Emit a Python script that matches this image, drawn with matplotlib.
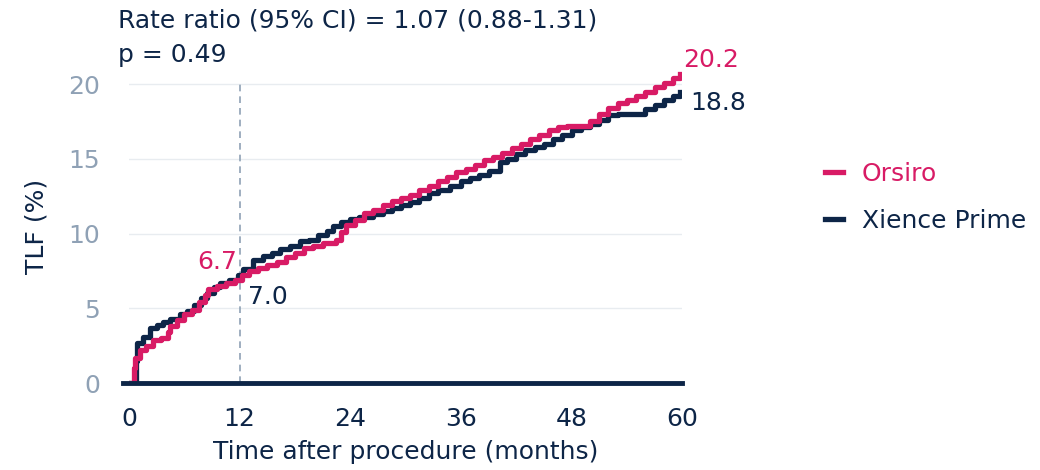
import numpy as np
import matplotlib
matplotlib.use("Agg")
import matplotlib.pyplot as plt

plt.rcParams['font.family'] = ['DejaVu Sans']

PINK = '#d81b65'
NAVY = '#0d2547'
GREY = '#8fa1b5'
FS = 18

# cumulative TLF (%), months after procedure
orsiro_t = [0, 0.6, 0.7, 1.2, 1.8, 2.6, 3.5, 4.2, 4.5, 5.2, 6.0, 6.8, 7.6, 8.3, 8.6,
            9.5, 10.5, 11.5, 12.3, 13.0, 14.0, 15.0, 16.0, 17.0, 18.0, 19.0, 20.0,
            21.0, 22.5, 23.0, 23.5, 24.5, 25.5, 26.5, 27.5, 28.5, 29.5, 30.5, 31.5,
            32.5, 33.5, 34.5, 35.5, 36.5, 37.5, 38.5, 39.5, 40.5, 41.5, 42.5, 43.5,
            44.5, 45.5, 46.5, 47.5, 49.0, 50.0, 51.0, 52.0, 53.0, 54.0, 55.0, 56.0,
            57.0, 58.0, 59.0, 59.8]
orsiro_v = [0, 1.0, 1.7, 2.2, 2.5, 2.9, 3.0, 3.4, 3.8, 4.2, 4.6, 4.9, 5.4, 5.9, 6.3,
            6.5, 6.7, 6.9, 7.2, 7.5, 7.7, 7.9, 8.1, 8.4, 8.7, 9.0, 9.2,
            9.4, 9.6, 10.1, 10.6, 10.9, 11.4, 11.6, 11.9, 12.2, 12.4, 12.6, 12.9,
            13.2, 13.5, 13.8, 14.1, 14.3, 14.6, 14.9, 15.1, 15.4, 15.7, 16.0, 16.3,
            16.6, 16.9, 17.1, 17.2, 17.2, 17.5, 18.0, 18.4, 18.7, 18.9, 19.2, 19.5,
            19.8, 20.1, 20.4, 20.7]

xience_t = [0, 0.8, 0.9, 1.5, 2.3, 3.0, 3.7, 4.5, 5.5, 6.3, 7.0, 7.8, 8.5, 9.2, 9.9,
            10.8, 11.8, 12.4, 13.4, 14.5, 15.5, 16.4, 17.5, 18.5, 19.5, 20.5, 21.5,
            22.1, 23.0, 24.0, 25.0, 26.5, 27.5, 28.5, 29.5, 30.5, 31.5, 32.5, 33.5,
            34.8, 36.0, 37.0, 38.0, 39.0, 40.2, 41.0, 42.0, 43.0, 44.0, 45.0, 46.0,
            47.0, 48.0, 49.0, 50.0, 51.0, 52.0, 53.0, 55.4, 56.0, 57.0, 58.0, 59.0,
            59.8]
xience_v = [0, 1.5, 2.7, 3.1, 3.7, 3.9, 4.1, 4.3, 4.6, 4.8, 5.2, 5.7, 6.0, 6.4, 6.7,
            6.9, 7.2, 7.6, 8.2, 8.5, 8.7, 8.95, 9.2, 9.5, 9.6, 9.9, 10.2,
            10.5, 10.8, 11.0, 11.1, 11.3, 11.5, 11.7, 11.9, 12.1, 12.4, 12.7, 12.9,
            13.2, 13.5, 13.7, 13.9, 14.2, 14.8, 15.0, 15.3, 15.6, 15.8, 16.0, 16.3,
            16.6, 16.9, 17.1, 17.3, 17.6, 17.9, 18.0, 18.0, 18.3, 18.6, 18.9, 19.2,
            19.5]

x_ticks = [0, 12, 24, 36, 48, 60]
y_ticks = [0, 5, 10, 15, 20]

fig = plt.figure(figsize=(10.4, 4.7), dpi=100)
ax = fig.add_axes([0.124, 0.185, 0.532, 0.668])

for y in y_ticks[1:]:
    ax.axhline(y, color='#e8ecf0', lw=1, zorder=0)
ax.plot([12, 12], [0, 20], color=GREY, lw=1.2, ls=(0, (4, 3)), zorder=1)

ax.plot(xience_t, xience_v, drawstyle='steps-post', color=NAVY, lw=3.8,
        label='Xience Prime', zorder=3)
ax.plot(orsiro_t, orsiro_v, drawstyle='steps-post', color=PINK, lw=3.8,
        label='Orsiro', zorder=4)
ax.plot([-0.6, 60], [0, 0], color=NAVY, lw=3.5, clip_on=False, zorder=5)

ax.set_xlim(0, 60)
ax.set_ylim(0, 21)
ax.set_xticks(x_ticks)
ax.set_yticks(y_ticks)
ax.tick_params(length=0, labelsize=FS)
ax.tick_params(axis='y', colors=GREY, pad=21)
ax.tick_params(axis='x', colors=NAVY, pad=17)
for s in ax.spines.values():
    s.set_visible(False)

ax.set_xlabel('Time after procedure (months)', fontsize=FS, color=NAVY, labelpad=7)
ax.set_ylabel('TLF (%)', fontsize=FS, color=NAVY, labelpad=14)

ax.text(60.1, 21.6, '20.2', color=PINK, fontsize=FS, ha='left', va='center')
ax.text(60.85, 18.7, '18.8', color=NAVY, fontsize=FS, ha='left', va='center')
ax.text(11.7, 8.1, '6.7', color=PINK, fontsize=FS, ha='right', va='center')
ax.text(12.9, 5.75, '7.0', color=NAVY, fontsize=FS, ha='left', va='center')

fig.text(0.113, 0.957, 'Rate ratio (95% CI) = 1.07 (0.88-1.31)', fontsize=FS,
         color=NAVY, ha='left', va='center')
fig.text(0.113, 0.883, 'p = 0.49', fontsize=FS, color=NAVY, ha='left', va='center')

h, l = ax.get_legend_handles_labels()
leg = fig.legend(h[::-1], l[::-1], loc='center left', bbox_to_anchor=(0.772, 0.58),
                 frameon=False, fontsize=FS, handlelength=0.7, handletextpad=0.75,
                 labelspacing=0.9)
for txt, c in zip(leg.get_texts(), [PINK, NAVY]):
    txt.set_color(c)

fig.savefig('out.png', dpi=100)
